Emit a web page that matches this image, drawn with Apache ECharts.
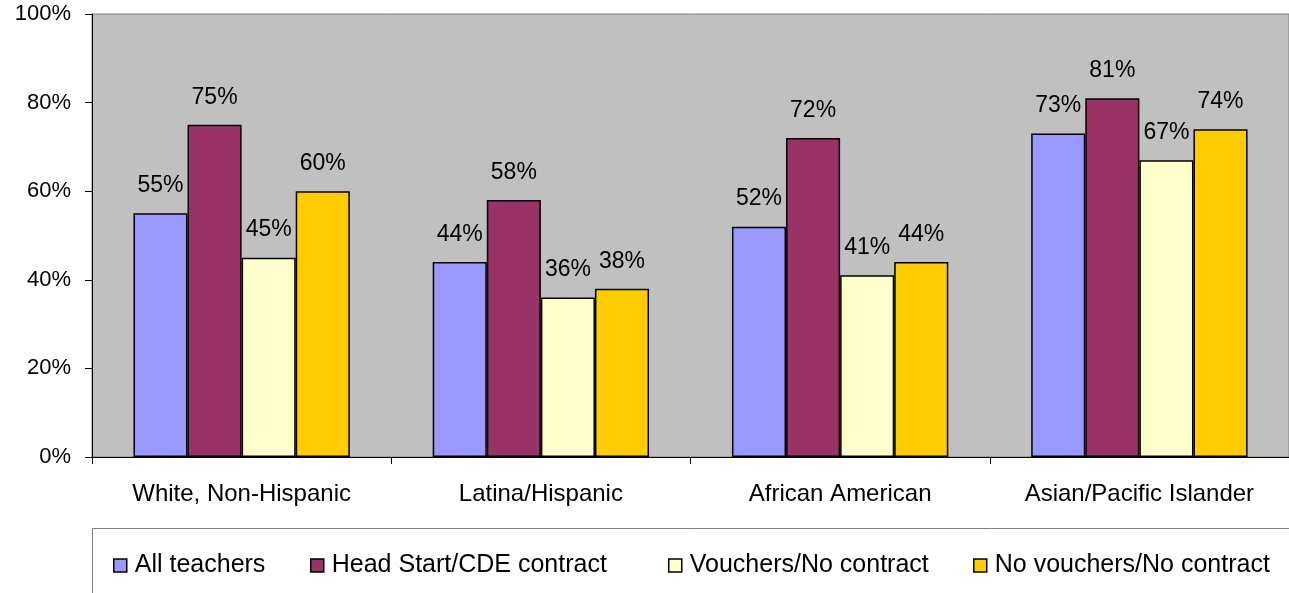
<!DOCTYPE html>
<html>
<head>
<meta charset="utf-8">
<script src="https://cdn.jsdelivr.net/npm/echarts@6/dist/echarts.min.js"></script>
<style>html,body{margin:0;padding:0;background:#fff}#c{width:1289px;height:593px}</style>
</head>
<body>
<div id="c"></div>
<script>
const categories = ['White, Non-Hispanic', 'Latina/Hispanic', 'African American', 'Asian/Pacific Islander'];
const seriesNames = ['All teachers', 'Head Start/CDE contract', 'Vouchers/No contract', 'No vouchers/No contract'];
const allTeachers = [55, 44, 52, 73];
const headStart = [75, 58, 72, 81];
const vouchers = [45, 36, 41, 67];
const noVouchers = [60, 38, 44, 74];
const yTicks = [0, 20, 40, 60, 80, 100];

const colors = ['#9999FF', '#993366', '#FFFFCC', '#FFCC00'];
const values = [allTeachers, headStart, vouchers, noVouchers];
const FONT = 'Liberation Sans, Arial, sans-serif';
const legendLefts = [108, 305, 663, 968];

const chart = echarts.init(document.getElementById('c'));
chart.setOption({
  animation: false,
  textStyle: { fontFamily: FONT },
  grid: { left: 92, top: 14, width: 1200, bottom: 136, show: true, backgroundColor: '#C0C0C0', borderColor: '#808080', borderWidth: 1 },
  graphic: [{
    type: 'rect', shape: { x: 92.5, y: 528.5, width: 1220, height: 100 },
    style: { fill: 'none', stroke: '#808080', lineWidth: 1 }, silent: true
  }],
  legend: seriesNames.map((n, i) => ({
    data: [n], left: legendLefts[i], top: 548, itemWidth: 13, itemHeight: 13, icon: 'rect',
    itemStyle: { borderColor: '#000', borderWidth: 1.5 },
    textStyle: { fontSize: 25, color: '#000', fontFamily: FONT, padding: [0, 0, 0, 3] }
  })),
  xAxis: {
    type: 'category', data: categories,
    axisLine: { lineStyle: { color: '#000', width: 1 } },
    axisTick: { show: true, length: 7, lineStyle: { color: '#000' } },
    axisLabel: { fontSize: 24, color: '#000', margin: 25, fontFamily: FONT }
  },
  yAxis: {
    type: 'value', min: yTicks[0], max: yTicks[yTicks.length - 1], interval: 20,
    axisLine: { show: true, lineStyle: { color: '#000' } },
    axisTick: { show: true, length: 7, lineStyle: { color: '#000' } },
    splitLine: { show: false },
    axisLabel: { fontSize: 22, color: '#000', margin: 21, formatter: v => v + '%', fontFamily: FONT }
  },
  series: seriesNames.map((n, i) => ({
    name: n, type: 'bar', data: values[i],
    barGap: '0%', barCategoryGap: '27.7%',
    itemStyle: { color: colors[i], borderColor: '#000', borderWidth: 1.5 },
    label: { show: true, position: 'top', distance: 16, fontSize: 23, color: '#000', formatter: p => p.value + '%', fontFamily: FONT }
  }))
});
</script>
</body>
</html>
